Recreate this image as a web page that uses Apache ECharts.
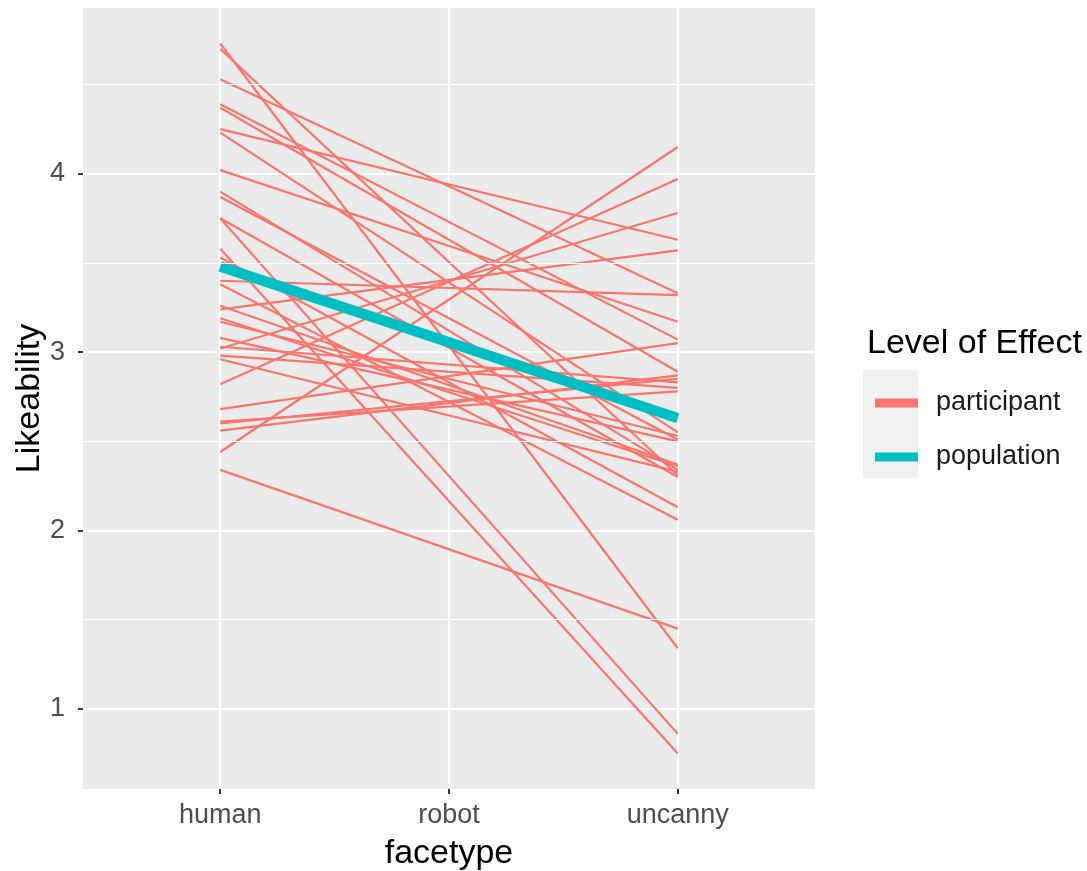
<!DOCTYPE html>
<html>
<head>
<meta charset="utf-8">
<script src="https://cdn.jsdelivr.net/npm/echarts@6/dist/echarts.min.js"></script>
<style>
html,body{margin:0;padding:0;background:#fff;}
#chart{width:1087px;height:871px;}
</style>
</head>
<body>
<div id="chart"></div>
<script>
// ---- data ----
const facetypes = ['human', 'robot', 'uncanny'];
// participant-level effects: value at "human" and at "uncanny"
const participantHuman = [4.73, 4.70, 4.53, 4.39, 4.37, 4.25, 4.23, 4.02, 3.90, 3.87, 3.75, 3.75, 3.58, 3.53, 3.40, 3.38,
                          3.26, 3.24, 3.19, 3.17, 3.08, 3.03, 3.02, 2.98, 2.96, 2.82, 2.68, 2.61, 2.60, 2.56, 2.44, 2.34];
const participantUncanny = [1.34, 2.31, 3.33, 3.07, 2.89, 3.63, 2.55, 3.17, 2.34, 2.51, 0.86, 2.30, 0.75, 2.13, 3.32, 2.06,
                            2.37, 3.57, 2.36, 2.53, 2.50, 2.83, 3.78, 2.80, 2.33, 3.97, 3.05, 2.78, 2.85, 2.87, 4.15, 1.45];
// population-level effect
const populationHuman = 3.48;
const populationUncanny = 2.63;
const yTicks = [1, 2, 3, 4];
const yMinorTicks = [1.5, 2.5, 3.5, 4.5];
const legendNames = ['participant', 'population'];

// ---- styles ----
const RED = '#F8766D', TEAL = '#00BFC4';
const FONT = 'Liberation Sans, Arial, sans-serif';
const xHuman = facetypes.indexOf('human');
const xUncanny = facetypes.indexOf('uncanny');
const xTicks = facetypes.map((f, i) => i);

const series = [];
// minor horizontal grid lines
series.push({
  type: 'line', data: [], z: 1, silent: true,
  markLine: {
    silent: true, symbol: 'none', label: {show: false}, animation: false,
    lineStyle: {color: '#ffffff', width: 1.1, type: 'solid'},
    emphasis: {disabled: true},
    data: yMinorTicks.map(v => ({yAxis: v}))
  }
});
participantHuman.forEach((h, i) => {
  series.push({
    name: legendNames[0], type: 'line', z: 3,
    data: [[xHuman, h], [xUncanny, participantUncanny[i]]],
    showSymbol: false, symbol: 'none', silent: true,
    color: RED,
    lineStyle: {color: RED, width: 2.2}
  });
});
series.push({
  name: legendNames[1], type: 'line', z: 4,
  data: [[xHuman, populationHuman], [xUncanny, populationUncanny]],
  showSymbol: false, symbol: 'none', silent: true,
  color: TEAL,
  lineStyle: {color: TEAL, width: 10.5}
});

const chart = echarts.init(document.getElementById('chart'), null, {renderer: 'canvas'});
chart.setOption({
  animation: false,
  backgroundColor: '#ffffff',
  title: {
    text: 'Level of Effect', left: 862, top: 322,
    textStyle: {fontFamily: FONT, fontSize: 34, fontWeight: 'normal', color: '#000000'}
  },
  graphic: [{
    type: 'rect', left: 863, top: 370, z: 0,
    shape: {width: 55, height: 108},
    style: {fill: '#F2F2F2'}
  }],
  legend: {
    data: legendNames, orient: 'vertical', left: 870, top: 383,
    icon: 'rect', itemWidth: 43, itemHeight: 9, itemGap: 24,
    selectedMode: false,
    textStyle: {fontFamily: FONT, fontSize: 27, color: '#1a1a1a', lineHeight: 30, padding: [0, 0, 0, 13]}
  },
  grid: {left: 83, right: 272, top: 8, bottom: 82, show: true, backgroundColor: '#EBEBEB', borderWidth: 0,
         containLabel: false, outerBoundsMode: 'none'},
  xAxis: {
    type: 'value', min: -0.6, max: 2.6,
    name: 'facetype', nameLocation: 'middle', nameGap: 48, nameMoveOverlap: false,
    nameTextStyle: {fontFamily: FONT, fontSize: 34, color: '#000000'},
    axisLine: {show: false, onZero: false},
    axisTick: {show: true, length: 5, customValues: xTicks, lineStyle: {color: '#333333', width: 2}},
    axisLabel: {customValues: xTicks, margin: 13, fontFamily: FONT, fontSize: 27, color: '#4D4D4D',
                formatter: v => facetypes[Math.round(v)] || ''},
    splitLine: {show: true, lineStyle: {color: '#ffffff', width: 2.2}}
  },
  yAxis: {
    type: 'value', min: 0.551, max: 4.929,
    name: 'Likeability', nameLocation: 'middle', nameGap: 36, nameRotate: 90, nameMoveOverlap: false,
    nameTextStyle: {fontFamily: FONT, fontSize: 34, color: '#000000'},
    axisLine: {show: false, onZero: false},
    axisTick: {show: true, length: 5, customValues: yTicks, lineStyle: {color: '#333333', width: 2}},
    axisLabel: {customValues: yTicks, margin: 18, fontFamily: FONT, fontSize: 27, color: '#4D4D4D'},
    splitLine: {show: true, lineStyle: {color: '#ffffff', width: 2.2}}
  },
  series: series
});
</script>
</body>
</html>
